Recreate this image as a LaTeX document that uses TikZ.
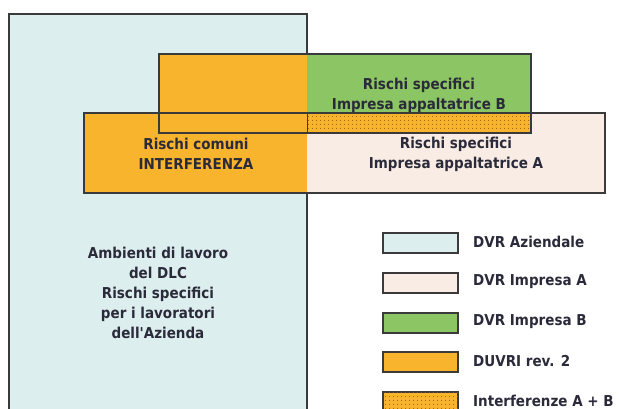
\documentclass[tikz,border=0pt]{standalone}
\usepackage{fontspec}
\setmainfont{DejaVu Sans}[FakeStretch=0.9, Ligatures=TeXOff]
\usetikzlibrary{patterns}
\pgfdeclarepatternformonly{sparsedots}{\pgfqpoint{-1pt}{-1pt}}{\pgfqpoint{2.5pt}{2.5pt}}{\pgfqpoint{3.5pt}{3.5pt}}{%
  \pgfpathcircle{\pgfqpoint{0.75pt}{0.75pt}}{0.6pt}\pgfusepath{fill}}
\definecolor{cyanbg}{HTML}{DDEEEE}
\definecolor{pinkbg}{HTML}{F8ECE4}
\definecolor{greenbg}{HTML}{8CC563}
\definecolor{orangebg}{HTML}{F8B42C}
\definecolor{dotc}{HTML}{8A5A10}
\definecolor{ink}{HTML}{2A2A3A}
\definecolor{edge}{HTML}{3A3A3A}
\tikzset{
  lab/.style={font=\bfseries\fontsize{15}{20}\selectfont, text=ink, align=center, inner sep=0pt},
  leglab/.style={font=\bfseries\fontsize{15}{20}\selectfont, text=ink, anchor=west, inner sep=0pt},
  legbox/.style={draw=edge, line width=1.5pt, minimum width=75pt, minimum height=20pt, inner sep=0pt, anchor=north west},
  frame/.style={draw=edge, line width=1.2pt},
  dotfill/.style={pattern=sparsedots, pattern color=dotc}
}
\begin{document}
\begin{tikzpicture}[x=1pt,y=-1pt]
\useasboundingbox (0,0) rectangle (619,409);
\clip (0,0) rectangle (619,409);
\fill[white] (0,0) rectangle (619,409);
% main company box
\fill[cyanbg] (9,14) rectangle (307,430);
\draw[draw=edge, line width=2pt] (9,430) -- (9,14) -- (307,14) -- (307,430);
% lower band (A)
\fill[orangebg] (84,113) rectangle (307,193);
\fill[pinkbg] (307,113) rectangle (605,193);
% upper band (B)
\fill[orangebg] (159,54) rectangle (307,133);
\fill[greenbg] (307,54) rectangle (531,113);
\fill[orangebg] (307,113) rectangle (531,133);
\fill[dotfill] (307,113) rectangle (531,133);
\draw[draw=edge, line width=0.6pt] (307,113) -- (307,133);
% outlines
\draw[frame] (84,113) rectangle (605,193);
\draw[frame] (159,54) rectangle (531,133);
% texts
\node[lab] (tB) at (419,95) {Rischi specifici\\Impresa appaltatrice B};
\node[lab] (tC) at (196,154) {Rischi comuni\\INTERFERENZA};
\node[lab] (tA) at (456,154) {Rischi specifici\\Impresa appaltatrice A};
\node[lab] (tM) at (158,293) {Ambienti di lavoro\\del DLC\\Rischi specifici\\per i lavoratori\\dell'Azienda};
% legend
\node[legbox, fill=cyanbg] (l1) at (382,232) {};
\node[legbox, fill=pinkbg] (l2) at (382,272) {};
\node[legbox, fill=greenbg] (l3) at (382,312) {};
\node[legbox, fill=orangebg] (l4) at (382,351) {};
\node[legbox, fill=orangebg, postaction={dotfill}] (l5) at (382,391) {};
\node[leglab] (t1) at (473,242) {DVR Aziendale};
\node[leglab] (t2) at (473,282) {DVR Impresa A};
\node[leglab] (t3) at (473,322) {DVR Impresa B};
\node[leglab] (t4) at (473,361) {DUVRI rev. 2};
\node[leglab] (t5) at (473,401) {Interferenze A + B};
\end{tikzpicture}
\end{document}
